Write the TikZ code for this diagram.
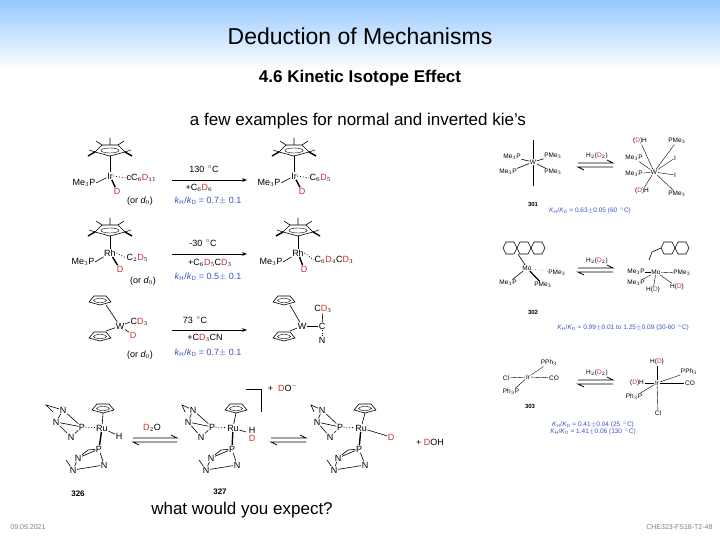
\documentclass[tikz,border=0pt]{standalone}
\usepackage{fontspec}
\setmainfont{Liberation Sans}
\usetikzlibrary{arrows.meta}
\definecolor{rd}{RGB}{205,50,50}
\definecolor{bl}{RGB}{60,80,200}
\definecolor{topblue}{RGB}{150,200,255}
\newcommand\Dr{\textcolor{rd}{D}}
\newcommand\kHD{\textit{k}\textsubscript{H}/\textit{k}\textsubscript{D}}
\newcommand\KHD{\textit{K}\textsubscript{H}/\textit{K}\textsubscript{D}}
\newcommand\degC{\textsuperscript{\,$\circ$}C}
\tikzset{
 ch/.style={font=\fontsize{9}{10}\selectfont,inner sep=0.5pt},
 chs/.style={font=\fontsize{6.5}{7}\selectfont,inner sep=0.5pt},
 kie/.style={font=\fontsize{9}{10}\selectfont,text=bl,inner sep=0.5pt},
 kies/.style={font=\fontsize{6.5}{7}\selectfont,text=bl,inner sep=0.5pt},
 bond/.style={line width=0.6pt},
 rxn/.style={-{Stealth[length=5pt]},line width=0.6pt},
 pics/cpstar/.style={code={
   \draw[line width=0.6pt] (-15,2)--(-8,-5)--(8,-5)--(15,2)--(0,6)--cycle;
   \draw[line width=0.4pt] (0,0.5) ellipse (9 and 2.5);
   \draw[line width=0.6pt] (0,-5)--(0,-12) (-15,2)--(-21,0) (15,2)--(21,0) (-8,-5)--(-14,-9) (8,-5)--(14,-9);
   \draw[line width=1.4pt] (-15,2)--(-22,6) (15,2)--(22,6);
 }},
 pics/cp/.style={code={
   \draw[line width=0.6pt] (-11,2)--(-6,-4)--(6,-4)--(11,2)--(0,5)--cycle;
   \draw[line width=0.4pt] (0,0.5) ellipse (6.5 and 2);
 }},
}
\newcommand\eqarrow[3]{% x1,x2,y
 \draw[line width=0.8pt] (#1,#3)--(#2,#3)--++(-6,-3);
 \draw[line width=0.8pt] (#2,#3+4)--(#1,#3+4)--++(6,3);}
\begin{document}
\begin{tikzpicture}[x=1pt,y=-1pt]
\useasboundingbox (0,0) rectangle (720,540);
\shade[top color=topblue,bottom color=white] (0,0) rectangle (720,70);
\fill[white] (0,70) rectangle (720,540);
\node (title) at (360,36) {\fontsize{23}{26}\selectfont Deduction of Mechanisms};
\node (sub) at (360,78) {\fontsize{17}{20}\selectfont\bfseries 4.6 Kinetic Isotope Effect};
\node (intro) at (358,121) {\fontsize{17}{20}\selectfont a few examples for normal and inverted kie's};
\node (q) at (242,510) {\fontsize{17}{20}\selectfont what would you expect?};
\node[text=gray] (date) at (28,527) {\fontsize{7}{8}\selectfont 09.09.2021};
\node[text=gray,anchor=east] (foot) at (716,527) {\fontsize{7}{8}\selectfont CHE323-FS18-T2-48};

% ---- row 1
\pic at (110,150) {cpstar};
\node[ch] (ir1) at (110,176) {Ir};
\draw[bond] (110,156)--(ir1);
\node[ch,anchor=east] (p1) at (96,183) {Me$_3$P};
\draw[bond] (p1.east)--(ir1);
\node[ch,anchor=west] (r1) at (126,178) {cC$_6$\Dr$_{11}$};
\draw[dotted,line width=0.8pt] (ir1.east)--(r1.west);
\node[ch] (d1) at (117,191) {\Dr};
\draw[line width=1.4pt] (ir1)--(d1);
\node[ch] (o1) at (140,201) {(or \textit{d$_0$})};
\coordinate (a1s) at (172,180); \coordinate (a1e) at (247,180);
\draw[rxn] (a1s)--(a1e);
\node[ch] (c1) at (204,169) {130 \degC};
\node[ch] (c1b) at (199,188) {+C$_6$\Dr$_6$};
\node[kie] (k1) at (208,201) {\kHD\ = 0.7$\pm$ 0.1};
\pic at (294,150) {cpstar};
\node[ch] (ir2) at (294,176) {Ir};
\draw[bond] (294,156)--(ir2);
\node[ch,anchor=east] (p2) at (281,183) {Me$_3$P};
\draw[bond] (p2.east)--(ir2);
\node[ch,anchor=west] (r2) at (309,178) {C$_6$\Dr$_5$};
\draw[dotted,line width=0.8pt] (ir2.east)--(r2.west);
\node[ch] (d2) at (302,191) {\Dr};
\draw[line width=1.4pt] (ir2)--(d2);

% ---- row 2
\pic at (110,230) {cpstar};
\node[ch] (rh1) at (110,253) {Rh};
\draw[bond] (110,236)--(rh1);
\node[ch,anchor=east] (p3) at (95,262) {Me$_3$P};
\draw[bond] (p3.east)--(rh1);
\node[ch,anchor=west] (r3) at (126,258) {C$_2$\Dr$_5$};
\draw[dotted,line width=0.8pt] (rh1.east)--(r3.west);
\node[ch] (d3) at (120,269) {\Dr};
\draw[line width=1.4pt] (rh1)--(d3);
\node[ch] (o2) at (143,281) {(or \textit{d$_0$})};
\coordinate (a2s) at (172,254); \coordinate (a2e) at (247,254);
\draw[rxn] (a2s)--(a2e);
\node[ch] (c2) at (203,243) {-30 \degC};
\node[ch] (c2b) at (210,263) {+C$_6$\Dr$_5$C\Dr$_3$};
\node[kie] (k2) at (208,277) {\kHD\ = 0.5$\pm$ 0.1};
\pic at (298,230) {cpstar};
\node[ch] (rh2) at (298,253) {Rh};
\draw[bond] (298,236)--(rh2);
\node[ch,anchor=east] (p4) at (283,262) {Me$_3$P};
\draw[bond] (p4.east)--(rh2);
\node[ch,anchor=west] (r4) at (314,260) {C$_6$\Dr$_4$C\Dr$_3$};
\draw[dotted,line width=0.8pt] (rh2.east)--(r4.west);
\node[ch] (d4) at (304,269) {\Dr};
\draw[line width=1.4pt] (rh2)--(d4);

% ---- row 3
\begin{scope}[shift={(100,300)},rotate=-25]\pic {cp};\end{scope}
\begin{scope}[shift={(100,336)},rotate=25]\pic {cp};\end{scope}
\node[ch] (w1) at (120,326) {W};
\draw[bond] (106,305)--(w1) (106,331)--(w1);
\node[ch,anchor=west] (cd1) at (130,322) {C\Dr$_3$};
\draw[bond] (w1)--(cd1.west);
\node[ch] (d5) at (133,335) {\Dr};
\draw[bond] (w1)--(d5);
\node[ch] (o3) at (140,355) {(or \textit{d$_0$})};
\coordinate (a3s) at (172,330); \coordinate (a3e) at (247,330);
\draw[rxn] (a3s)--(a3e);
\node[ch] (c3) at (195,320) {73 \degC};
\node[ch] (c3b) at (205,338) {+C\Dr$_3$CN};
\node[kie] (k3) at (208,353) {\kHD\ = 0.7$\pm$ 0.1};
\begin{scope}[shift={(284,300)},rotate=-25]\pic {cp};\end{scope}
\begin{scope}[shift={(284,336)},rotate=25]\pic {cp};\end{scope}
\node[ch] (w2) at (302,326) {W};
\draw[bond] (290,305)--(w2) (290,331)--(w2);
\node[ch] (cc) at (322,326) {C};
\draw[bond] (w2)--(cc);
\node[ch] (cd2) at (323,309) {C\Dr$_3$};
\draw[bond] (cc)--(cd2);
\node[ch] (n2) at (322,340) {N};
\draw[dotted,line width=0.8pt] (cc)--(n2);

% ---- bottom row
\pic at (103,408) {cp};
\node[ch] (ru1) at (102,428) {Ru};
\draw[bond] (103,413)--(ru1);
\node[ch] (pa1) at (82,427) {P};
\draw[dotted,line width=0.8pt] (pa1)--(ru1);
\node[ch] (h1) at (119,436) {H};
\draw[bond] (ru1)--(h1);
\node[ch] (pb1) at (99,449) {P};
\draw[line width=1.4pt] (ru1)--(pb1);
\node[ch] (na1) at (63,410) {N}; \node[ch] (nb1) at (56,422) {N}; \node[ch] (nc1) at (71,437) {N};
\draw[bond] (na1)--(pa1) (nb1)--(pa1) (nc1)--(pa1) (na1)--(nb1) (nb1)--(nc1) (na1)--(46,405)--(53,412);
\node[ch] (nd1) at (78,458) {N}; \node[ch] (ne1) at (73,470) {N}; \node[ch] (nf1) at (104,465) {N};
\draw[bond] (nd1)--(pb1) (nf1)--(pb1) (ne1)--(nd1) (ne1)--(nf1) (ne1)--(66,460) (pb1)--(88,450)--(nd1);
\node[font=\fontsize{8}{9}\selectfont\bfseries] (l326) at (78,494) {326};
\eqarrow{133}{177}{438}
\node[ch] (d2o) at (152,428) {\Dr$_2$O};
% middle
\pic at (236,408) {cp};
\node[ch] (ru2) at (233,428) {Ru};
\draw[bond] (236,413)--(ru2);
\node[ch] (pa2) at (212,427) {P};
\draw[dotted,line width=0.8pt] (pa2)--(ru2);
\node[ch] (h2) at (252,430) {H};
\node[ch] (dd2) at (252,438) {\Dr};
\draw[bond] (ru2)--(246,432);
\node[ch] (pb2) at (232,449) {P};
\draw[line width=1.4pt] (ru2)--(pb2);
\node[ch] (na2) at (193,410) {N}; \node[ch] (nb2) at (188,422) {N}; \node[ch] (nc2) at (201,437) {N};
\draw[bond] (na2)--(pa2) (nb2)--(pa2) (nc2)--(pa2) (na2)--(nb2) (nb2)--(nc2) (na2)--(182,405)--(185,412);
\node[ch] (nd2) at (211,458) {N}; \node[ch] (ne2) at (206,470) {N}; \node[ch] (nf2) at (237,465) {N};
\draw[bond] (nd2)--(pb2) (nf2)--(pb2) (ne2)--(nd2) (ne2)--(nf2) (ne2)--(199,460) (pb2)--(221,450)--(nd2);
\coordinate (br1) at (246,389); \coordinate (br2) at (261,389); \coordinate (br3) at (261,412);
\draw[bond] (br1)--(br2)--(br3);
\node[ch] (dom) at (283,388) {+\ \ \Dr O$^{-}$};
\node[font=\fontsize{8}{9}\selectfont\bfseries] (l327) at (220,492) {327};
\eqarrow{271}{306}{438}
% right
\pic at (365,408) {cp};
\node[ch] (ru3) at (361,428) {Ru};
\draw[bond] (365,413)--(ru3);
\node[ch] (pa3) at (340,427) {P};
\draw[dotted,line width=0.8pt] (pa3)--(ru3);
\node[ch] (d6) at (391,437) {\Dr};
\draw[bond] (ru3)--(d6);
\node[ch] (pb3) at (359,449) {P};
\draw[line width=1.4pt] (ru3)--(pb3);
\node[ch] (na3) at (322,410) {N}; \node[ch] (nb3) at (317,422) {N}; \node[ch] (nc3) at (330,437) {N};
\draw[bond] (na3)--(pa3) (nb3)--(pa3) (nc3)--(pa3) (na3)--(nb3) (nb3)--(nc3) (na3)--(311,405)--(314,412);
\node[ch] (nd3) at (338,458) {N}; \node[ch] (ne3) at (334,470) {N}; \node[ch] (nf3) at (365,465) {N};
\draw[bond] (nd3)--(pb3) (nf3)--(pb3) (ne3)--(nd3) (ne3)--(nf3) (ne3)--(327,460) (pb3)--(348,450)--(nd3);
\node[ch] (doh) at (430,442) {+ \Dr OH};

% ---- right column: 301
\node[chs] (w3) at (533,162) {W};
\draw[bond] (533,140)--(w3) (w3)--(533,186);
\node[chs] (p31) at (512,157) {Me$_3$P}; \node[chs] (p32) at (553,156) {PMe$_3$};
\node[chs] (p33) at (508,172) {Me$_3$P}; \node[chs] (p34) at (553,172) {PMe$_3$};
\draw[bond] (p31)--(w3) (p32)--(w3) (p33)--(w3) (p34)--(w3);
\node[font=\fontsize{6}{7}\selectfont\bfseries] (l301) at (533,204) {301};
\node[kies] (k4) at (590,211) {\KHD\ = 0.63$\pm$0.05 (60 \degC)};
\node[chs] (h2d1) at (597,156) {H$_2$(\Dr$_2$)};
\eqarrow{578}{613}{163}
\node[chs] (w4) at (654,172) {W};
\node[chs] (q1) at (640,141) {(\Dr)H}; \node[chs] (q2) at (677,141) {PMe$_3$};
\node[chs] (q3) at (634,158) {Me$_3$P}; \node[chs] (q4) at (675,158) {I};
\node[chs] (q5) at (634,174) {Me$_3$P}; \node[chs] (q6) at (675,175) {I};
\node[chs] (q7) at (642,191) {(\Dr)H}; \node[chs] (q8) at (677,194) {PMe$_3$};
\foreach \q in {q1,q2,q3,q4,q5,q6,q7,q8} \draw[line width=0.4pt] (w4)--(\q);

% 302
\foreach \cx in {510,524,538} \draw[bond] (\cx-7,248)--(\cx-4,242)--(\cx+4,242)--(\cx+7,248)--(\cx+4,254)--(\cx-4,254)--cycle;
\node[chs] (mo1) at (527,268) {Mo};
\draw[bond] (518,254)--(mo1);
\node[chs] (p51) at (508,283) {Me$_3$P}; \node[chs] (p52) at (557,273) {PMe$_3$}; \node[chs] (p53) at (543,285) {PMe$_3$};
\draw[bond] (p51)--(mo1); \draw[dotted] (p52)--(mo1); \draw[line width=1.2pt] (p53)--(mo1);
\node[font=\fontsize{6}{7}\selectfont\bfseries] (l302) at (533,312) {302};
\node[chs] (h2d2) at (597,261) {H$_2$(\Dr$_2$)};
\eqarrow{578}{613}{268}
\foreach \cx in {668,682} \draw[bond] (\cx-7,248)--(\cx-4,242)--(\cx+4,242)--(\cx+7,248)--(\cx+4,254)--(\cx-4,254)--cycle;
\draw[bond] (661,248)--(652,252)--(649,260);
\node[chs] (mo2) at (656,272) {Mo};
\node[chs] (u1) at (636,272) {Me$_3$P}; \node[chs] (u2) at (682,273) {PMe$_3$};
\node[chs] (u3) at (636,283) {Me$_3$P}; \node[chs] (u4) at (653,290) {H(\Dr)}; \node[chs] (u5) at (677,287) {H(\Dr)};
\foreach \q in {u1,u2,u3,u4,u5} \draw[line width=0.4pt] (mo2)--(\q);
\node[kies] (k5) at (623,328) {\KHD\ = 0.99$\pm$0.01 to 1.25$\pm$0.09 (30-60 \degC)};

% 303
\node[chs] (ir3) at (528,377) {Ir};
\node[chs] (v1) at (506,378) {Cl}; \node[chs] (v2) at (549,363) {PPh$_3$};
\node[chs] (v3) at (554,378) {CO}; \node[chs] (v4) at (511,392) {Ph$_3$P};
\foreach \q in {v1,v2,v3,v4} \draw[line width=0.4pt] (ir3)--(\q);
\node[font=\fontsize{6}{7}\selectfont\bfseries] (l303) at (530,406) {303};
\node[chs] (h2d3) at (597,373) {H$_2$(\Dr$_2$)};
\eqarrow{578}{613}{380}
\node[chs] (ir4) at (657,383) {Ir};
\node[chs] (s1) at (657,362) {H(\Dr)}; \node[chs] (s2) at (689,372) {PPh$_3$};
\node[chs] (s3) at (637,383) {(\Dr)H}; \node[chs] (s4) at (690,383) {CO};
\node[chs] (s5) at (634,397) {Ph$_3$P}; \node[chs] (s6) at (658,413) {Cl};
\foreach \q in {s1,s2,s3,s4,s5,s6} \draw[line width=0.4pt] (ir4)--(\q);
\node[kies] (k6) at (593,425) {\KHD\ = 0.41$\pm$0.04 (25 \degC)};
\node[kies] (k7) at (593,432) {\KHD\ = 1.41$\pm$0.06 (130 \degC)};
\end{tikzpicture}
\end{document}
